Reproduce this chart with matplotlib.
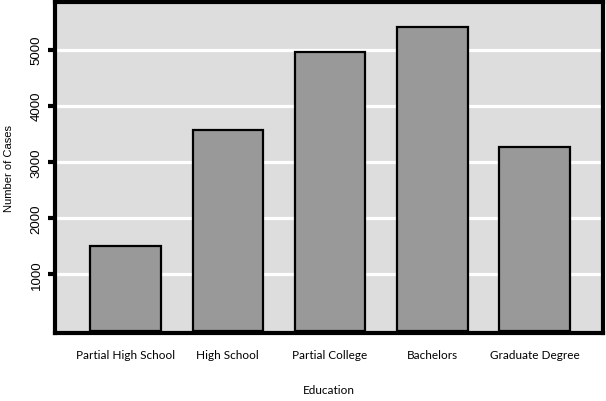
import numpy as np
import matplotlib
matplotlib.use("Agg")
import matplotlib.pyplot as plt

# data
categories = ["Partial High School", "High School", "Partial College", "Bachelors", "Graduate Degree"]
cases = [1512, 3562, 4964, 5410, 3268]
yticks = [1000, 2000, 3000, 4000, 5000]

fig = plt.figure(figsize=(6.06, 4.02), dpi=100)
ax = fig.add_axes([55/606, (402-333.5)/402, (603-55)/606, (333.5-3)/402])
ax.set_facecolor("#dddddd")

x = np.arange(len(categories))
ax.bar(x, cases, width=0.69, color="#999999", edgecolor="black", linewidth=1.6, zorder=3)

ax.set_ylim(-35, 5846)
ax.set_xlim(-0.69, 4.67)
ax.set_yticks(yticks)
ax.set_yticklabels([str(t) for t in yticks], rotation=90, va="center",
                   family="Liberation Sans", fontsize=9.5)
ax.set_xticks(x)
ax.set_xticklabels(categories, family="Lato", fontsize=8.5)
ax.grid(axis="y", color="white", linewidth=2.3, zorder=1)
ax.set_axisbelow(True)

for s in ax.spines.values():
    s.set_linewidth(3)
    s.set_zorder(4)
ax.tick_params(axis="y", length=5, width=3, pad=4)
ax.tick_params(axis="x", length=0, pad=12)

ax.set_ylabel("Number of Cases", family="Liberation Sans", fontsize=8, labelpad=12)
ax.set_xlabel("Education", family="Lato", fontsize=8.5, labelpad=17)

fig.savefig("out.png", dpi=100)
